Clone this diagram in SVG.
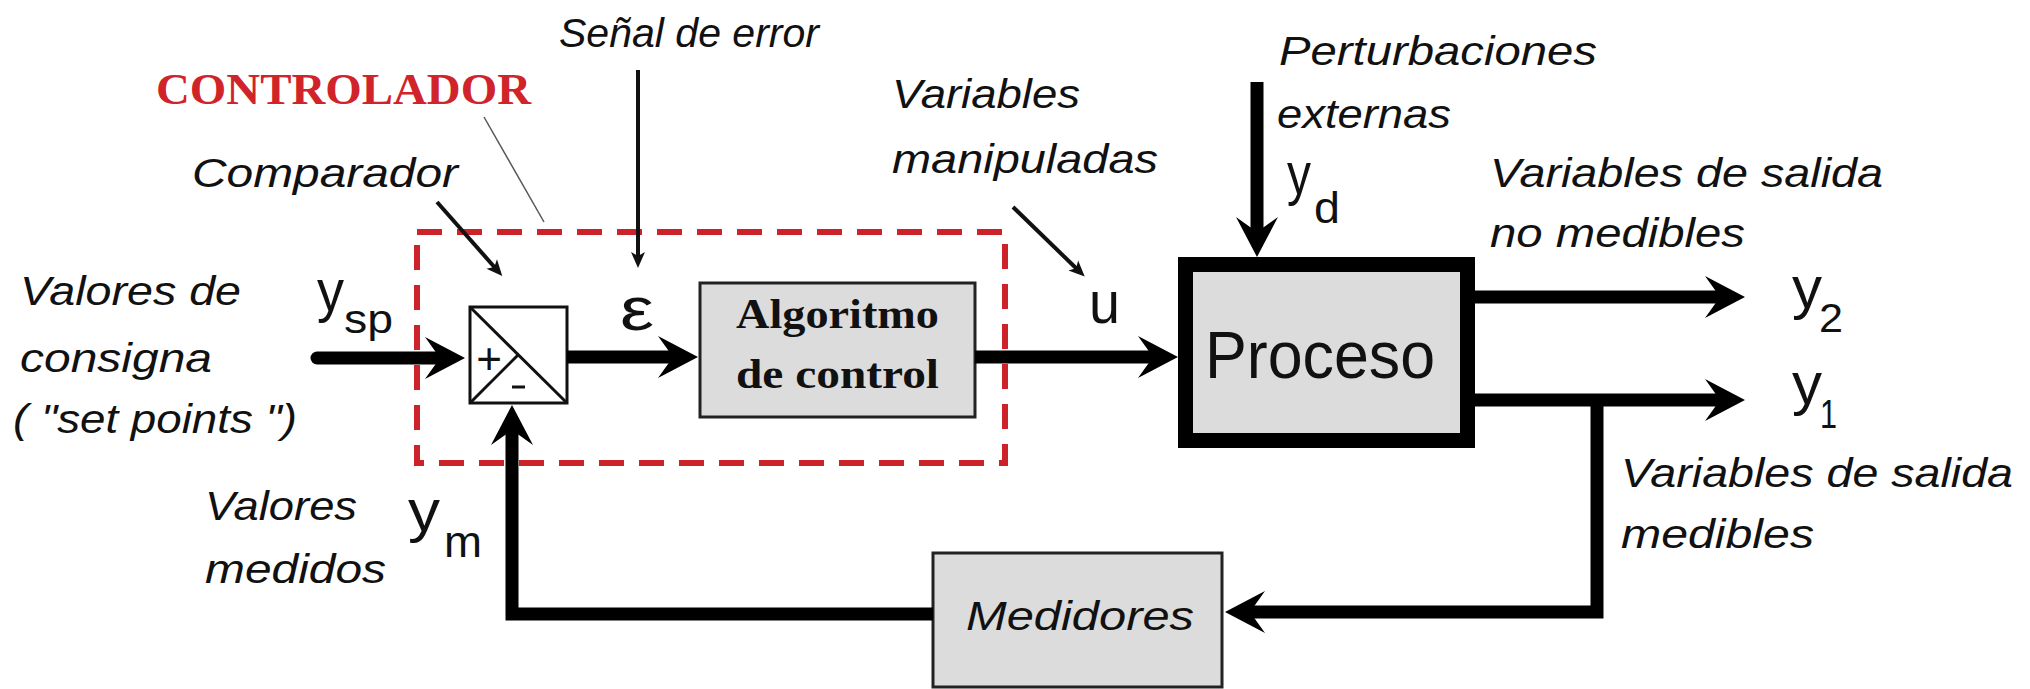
<svg xmlns="http://www.w3.org/2000/svg" width="2030" height="689" viewBox="0 0 2030 689">
<defs>
<style>
.lbl{font-family:"Liberation Sans",Arial,sans-serif;font-style:italic;font-size:40px;fill:#111}
.sym{font-family:"Liberation Sans",Arial,sans-serif;fill:#111}
.ser{font-family:"Liberation Serif","Times New Roman",serif;font-weight:bold;fill:#111}
.box{fill:#dcdcdc;stroke:#222;stroke-width:3}
.wire{fill:none;stroke:#000;stroke-width:13;stroke-linejoin:miter}
.ptr{fill:none;stroke:#111;stroke-width:4}
</style>
<marker id="big" markerUnits="userSpaceOnUse" viewBox="-20 -24 46 48" refX="0" refY="0" markerWidth="46" markerHeight="48" orient="auto" overflow="visible">
<path d="M22,0 L-18,-21 L-3,0 L-18,21 Z" fill="#000"/>
</marker>
<marker id="sm" markerUnits="userSpaceOnUse" viewBox="-12 -10 24 20" refX="0" refY="0" markerWidth="24" markerHeight="20" orient="auto" overflow="visible">
<path d="M8,0 L-8,-7 L-4,0 L-8,7 Z" fill="#111"/>
</marker>
</defs>
<rect width="2030" height="689" fill="#fff"/>

<g id="controlador">
<rect x="417" y="232" width="588" height="231" fill="none" stroke="#cc2229" stroke-width="6" stroke-dasharray="25 15"/>
<text x="156" y="104" font-family="Liberation Serif,Times New Roman,serif" font-weight="bold" font-size="44" fill="#d1232a" textLength="375" lengthAdjust="spacingAndGlyphs">CONTROLADOR</text>
<line x1="484" y1="117" x2="544" y2="222" stroke="#555" stroke-width="1.5"/>
</g>

<g id="comparador">
<rect x="470" y="307" width="97" height="96" fill="#fff" stroke="#111" stroke-width="3"/>
<line x1="470" y1="307" x2="567" y2="403" stroke="#111" stroke-width="3"/>
<line x1="470" y1="403" x2="518" y2="355" stroke="#111" stroke-width="3"/>
<text class="sym" x="489" y="374" font-size="44" text-anchor="middle">+</text>
<line x1="512" y1="387" x2="525" y2="387" stroke="#111" stroke-width="3"/>
</g>

<g id="algoritmo">
<rect class="box" x="700" y="283" width="275" height="134"/>
<text class="ser" x="736" y="328" font-size="42" textLength="203" lengthAdjust="spacingAndGlyphs">Algoritmo</text>
<text class="ser" x="736" y="388" font-size="42" textLength="203" lengthAdjust="spacingAndGlyphs">de control</text>
</g>

<g id="proceso">
<rect x="1185.5" y="264.5" width="282" height="176" fill="#dcdcdc" stroke="#000" stroke-width="15"/>
<text class="sym" x="1205" y="378" font-size="66" textLength="230" lengthAdjust="spacingAndGlyphs">Proceso</text>
</g>

<g id="medidores">
<rect class="box" x="933" y="553" width="289" height="134"/>
<text class="lbl" x="966" y="630" textLength="228" lengthAdjust="spacingAndGlyphs">Medidores</text>
</g>

<g id="connectors">
<path class="wire" d="M317,358 H443" stroke-linecap="round" marker-end="url(#big)"/>
<path class="wire" d="M567,357 H676" marker-end="url(#big)"/>
<path class="wire" d="M975,357 H1156" marker-end="url(#big)"/>
<path class="wire" d="M1257,82 V235" marker-end="url(#big)"/>
<path class="wire" d="M1475,297 H1723" marker-end="url(#big)"/>
<path class="wire" d="M1475,400 H1723" marker-end="url(#big)"/>
<path class="wire" d="M1597,400 V612 H1247" stroke-width="11" marker-end="url(#big)"/>
<path class="wire" d="M933,614 H512 V427" stroke-width="12" marker-end="url(#big)"/>
<line class="ptr" x1="437" y1="202" x2="497" y2="270" marker-end="url(#sm)"/>
<line class="ptr" x1="638" y1="70" x2="638" y2="260" stroke-width="2" marker-end="url(#sm)"/>
<line class="ptr" x1="1013" y1="207" x2="1079" y2="271" marker-end="url(#sm)"/>
</g>

<g id="labels">
<text class="lbl" x="559" y="47" textLength="260" lengthAdjust="spacingAndGlyphs">Señal de error</text>
<text class="lbl" x="192" y="187" textLength="266" lengthAdjust="spacingAndGlyphs">Comparador</text>
<text class="lbl" x="892" y="108" textLength="188" lengthAdjust="spacingAndGlyphs">Variables</text>
<text class="lbl" x="892" y="173" textLength="266" lengthAdjust="spacingAndGlyphs">manipuladas</text>
<text class="lbl" x="1279" y="65" textLength="318" lengthAdjust="spacingAndGlyphs">Perturbaciones</text>
<text class="lbl" x="1277" y="128" textLength="174" lengthAdjust="spacingAndGlyphs">externas</text>
<text class="lbl" x="1490" y="187" textLength="393" lengthAdjust="spacingAndGlyphs">Variables de salida</text>
<text class="lbl" x="1490" y="247" textLength="255" lengthAdjust="spacingAndGlyphs">no medibles</text>
<text class="lbl" x="20" y="305" textLength="221" lengthAdjust="spacingAndGlyphs">Valores de</text>
<text class="lbl" x="20" y="372" textLength="192" lengthAdjust="spacingAndGlyphs">consigna</text>
<text class="lbl" x="13" y="433" textLength="284" lengthAdjust="spacingAndGlyphs">( "set points ")</text>
<text class="lbl" x="205" y="520" textLength="152" lengthAdjust="spacingAndGlyphs">Valores</text>
<text class="lbl" x="205" y="583" textLength="181" lengthAdjust="spacingAndGlyphs">medidos</text>
<text class="lbl" x="1621" y="487" textLength="392" lengthAdjust="spacingAndGlyphs">Variables de salida</text>
<text class="lbl" x="1621" y="548" textLength="193" lengthAdjust="spacingAndGlyphs">medibles</text>
<text class="sym" x="620" y="330" font-size="62" textLength="34" lengthAdjust="spacingAndGlyphs">ε</text>
<text class="sym" x="1089" y="323" font-size="60" textLength="31" lengthAdjust="spacingAndGlyphs">u</text>
<text class="sym" x="317" y="311" font-size="60" textLength="27" lengthAdjust="spacingAndGlyphs">y</text>
<text class="sym" x="344" y="333" font-size="40" textLength="49" lengthAdjust="spacingAndGlyphs">sp</text>
<text class="sym" x="408" y="531" font-size="60" textLength="32" lengthAdjust="spacingAndGlyphs">y</text>
<text class="sym" x="444" y="557" font-size="44" textLength="38" lengthAdjust="spacingAndGlyphs">m</text>
<text class="sym" x="1287" y="194" font-size="60" textLength="24" lengthAdjust="spacingAndGlyphs">y</text>
<text class="sym" x="1314" y="223" font-size="44" textLength="26" lengthAdjust="spacingAndGlyphs">d</text>
<text class="sym" x="1792" y="308" font-size="60" textLength="30" lengthAdjust="spacingAndGlyphs">y</text>
<text class="sym" x="1819" y="332" font-size="40" textLength="24" lengthAdjust="spacingAndGlyphs">2</text>
<text class="sym" x="1792" y="404" font-size="60" textLength="30" lengthAdjust="spacingAndGlyphs">y</text>
<text class="sym" x="1820" y="428" font-size="40" textLength="17" lengthAdjust="spacingAndGlyphs">1</text>
</g>
</svg>
